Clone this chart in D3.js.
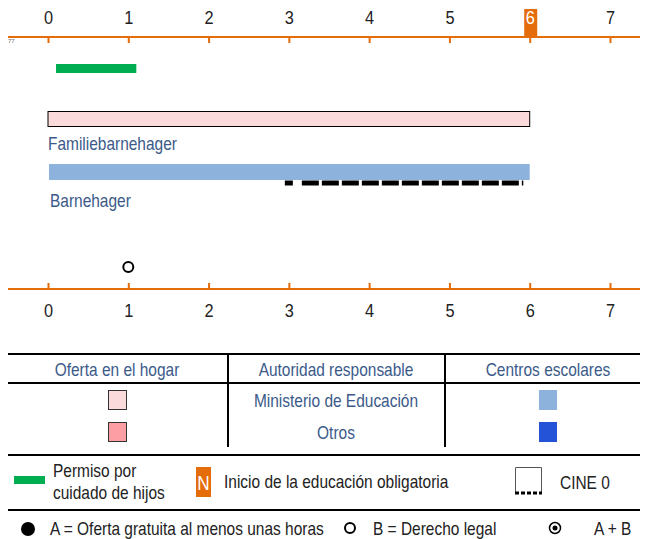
<!DOCTYPE html>
<html>
  <head>
    <meta charset="utf-8">
    <title>Noruega - estructura</title>
    <script type="text/javascript" src="https://cdn.jsdelivr.net/npm/d3@7"></script>
    <style type='text/css'>
      body { margin: 0; background: #fff; }
      svg text { font-family: "Liberation Sans", Arial, sans-serif; }
      .tick text { font-size: 19px; fill: #222; }
      .lbl { font-size: 18px; fill: #3b5a8a; }
      .leg { font-size: 18px; fill: #222; }
    </style>
  </head>
  <body>
    <script type="text/javascript">
      var w = 649;
      var h = 539;
      var sx = 0.86;   // squeeze to look like a narrow face

      // age axis
      var ages = [0, 1, 2, 3, 4, 5, 6, 7];
      var compulsoryAge = 6;

      // bars: [start age, end age]
      var parentalLeave = [0.1, 1.1];
      var homeBars = [{name: 'Familiebarnehager', start: 0, end: 6}];
      var centreBars = [{name: 'Barnehager', start: 0, end: 6}];
      var cineRange = [2.95, 5.92];
      var legalRight = [1];

      var tableHeaders = ['Oferta en el hogar', 'Autoridad responsable', 'Centros escolares'];
      var authorities = ['Ministerio de Educación', 'Otros'];
      var homeColors = ['#fadadb', '#fc9ea4'];
      var centreColors = ['#8db3dc', '#2453d8'];

      var orange = '#e46c0a';

      var x = d3.scaleLinear().domain([0, 7]).range([48, 610]);

      var svg = d3.select('body')
                  .append('svg')
                  .attr('width', w)
                  .attr('height', h);

      // move x/y into a transform so the glyphs can be squeezed horizontally
      function narrow(sel) {
        sel.each(function() {
          var t = d3.select(this);
          var tx = +t.attr('x') || 0, ty = +t.attr('y') || 0;
          t.attr('x', 0).attr('y', 0)
           .attr('transform', 'translate(' + tx + ',' + ty + ') scale(' + sx + ',1)');
        });
        return sel;
      }

      // top axis
      var topAxis = d3.axisTop(x).tickValues(ages).tickSize(-6).tickPadding(13)
                      .tickFormat(d3.format('d'));
      var gTop = svg.append('g').attr('transform', 'translate(0,37)').call(topAxis);
      gTop.select('.domain').remove();
      gTop.insert('line', ':first-child')
          .attr('x1', 8).attr('x2', 640)
          .attr('stroke', orange).attr('stroke-width', 2);
      gTop.selectAll('.tick line').attr('stroke', orange).attr('stroke-width', 2);

      // highlight compulsory age
      gTop.selectAll('.tick').filter(function(d) { return d === compulsoryAge; })
          .each(function() {
            var t = d3.select(this);
            t.insert('rect', 'text')
             .attr('x', -6).attr('y', -28).attr('width', 13).attr('height', 27)
             .attr('fill', orange);
            t.select('text').style('fill', '#fff');
          });
      narrow(gTop.selectAll('.tick text'));

      // tiny marker left of axis
      svg.append('text').attr('x', 8).attr('y', 43)
         .style('font-size', '6px').style('fill', '#666').text('77');

      // bottom axis
      var botAxis = d3.axisBottom(x).tickValues(ages).tickSize(-6).tickPadding(14)
                      .tickFormat(d3.format('d'));
      var gBot = svg.append('g').attr('transform', 'translate(0,289)').call(botAxis);
      gBot.select('.domain').remove();
      gBot.insert('line', ':first-child')
          .attr('x1', 8).attr('x2', 640)
          .attr('stroke', orange).attr('stroke-width', 2);
      gBot.selectAll('.tick line').attr('stroke', orange).attr('stroke-width', 2);
      gBot.selectAll('.tick text').attr('dy', '0.71em');
      narrow(gBot.selectAll('.tick text'));

      // parental leave
      svg.append('rect')
         .attr('x', x(parentalLeave[0])).attr('y', 64)
         .attr('width', x(parentalLeave[1]) - x(parentalLeave[0])).attr('height', 9)
         .attr('fill', '#00ad50');

      // home-based provision
      svg.selectAll('rect.home')
         .data(homeBars)
         .enter()
         .append('rect')
         .attr('class', 'home')
         .attr('x', function(d) { return x(d.start); })
         .attr('y', 111.5)
         .attr('width', function(d) { return x(d.end) - x(d.start); })
         .attr('height', 15)
         .attr('fill', homeColors[0])
         .attr('stroke', '#000').attr('stroke-width', 1);

      svg.selectAll('text.home')
         .data(homeBars)
         .enter()
         .append('text')
         .attr('class', 'lbl home')
         .attr('x', function(d) { return x(d.start); })
         .attr('y', 150)
         .text(function(d) { return d.name; });

      // centre-based provision
      svg.selectAll('rect.centre')
         .data(centreBars)
         .enter()
         .append('rect')
         .attr('class', 'centre')
         .attr('x', function(d) { return x(d.start) + 1; })
         .attr('y', 164)
         .attr('width', function(d) { return x(d.end) - x(d.start) - 1; })
         .attr('height', 16)
         .attr('fill', centreColors[0]);

      svg.selectAll('text.centre')
         .data(centreBars)
         .enter()
         .append('text')
         .attr('class', 'lbl centre')
         .attr('x', function(d) { return x(d.start) + 2; })
         .attr('y', 207)
         .text(function(d) { return d.name; });

      // CINE 0 dashed line
      svg.append('line')
         .attr('x1', x(cineRange[0])).attr('x2', x(cineRange[1]))
         .attr('y1', 183).attr('y2', 183)
         .attr('stroke', '#000').attr('stroke-width', 5)
         .attr('stroke-dasharray', '8 9 17 3 17 3 17 3 17 3 17 3 17 3 17 3 17 3 17 3 17 3 17 3');

      // legal entitlement
      svg.selectAll('circle.right')
         .data(legalRight)
         .enter()
         .append('circle')
         .attr('class', 'right')
         .attr('cx', function(d) { return x(d); })
         .attr('cy', 267)
         .attr('r', 5)
         .attr('fill', '#fff').attr('stroke', '#000').attr('stroke-width', 2);

      // ---- legend table ----
      var hline = function(y, sw) {
        svg.append('line').attr('x1', 8).attr('x2', 640)
           .attr('y1', y).attr('y2', y).attr('stroke', '#000').attr('stroke-width', sw);
      };
      hline(354, 2);
      hline(383, 2);
      hline(455, 2);
      hline(510, 2);

      [228, 445].forEach(function(vx) {
        svg.append('line').attr('x1', vx).attr('x2', vx)
           .attr('y1', 354).attr('y2', 447).attr('stroke', '#000').attr('stroke-width', 2);
      });

      var colCenters = [117, 336, 548];
      svg.selectAll('text.hdr')
         .data(tableHeaders)
         .enter()
         .append('text')
         .attr('class', 'lbl hdr')
         .attr('x', function(d, i) { return colCenters[i]; })
         .attr('y', 376)
         .attr('text-anchor', 'middle')
         .text(function(d) { return d; });

      var rowY = [400, 432];
      svg.selectAll('text.auth')
         .data(authorities)
         .enter()
         .append('text')
         .attr('class', 'lbl auth')
         .attr('x', colCenters[1])
         .attr('y', function(d, i) { return rowY[i] + 7; })
         .attr('text-anchor', 'middle')
         .text(function(d) { return d; });

      svg.selectAll('rect.hsw')
         .data(homeColors)
         .enter()
         .append('rect')
         .attr('x', 108.5)
         .attr('y', function(d, i) { return rowY[i] - 9.5; })
         .attr('width', 18).attr('height', 19)
         .attr('fill', function(d) { return d; })
         .attr('stroke', '#333').attr('stroke-width', 1);

      svg.selectAll('rect.csw')
         .data(centreColors)
         .enter()
         .append('rect')
         .attr('x', 539)
         .attr('y', function(d, i) { return rowY[i] - 10; })
         .attr('width', 18).attr('height', 20)
         .attr('fill', function(d) { return d; });

      // second legend row
      svg.append('rect').attr('x', 14).attr('y', 476).attr('width', 31).attr('height', 8).attr('fill', '#00ad50');
      svg.append('text').attr('class', 'leg').attr('x', 53).attr('y', 477).text('Permiso por');
      svg.append('text').attr('class', 'leg').attr('x', 53).attr('y', 499).text('cuidado de hijos');

      svg.append('rect').attr('x', 196).attr('y', 467).attr('width', 15).attr('height', 30).attr('fill', orange);
      svg.append('text').attr('x', 203.5).attr('y', 490).attr('text-anchor', 'middle')
         .style('font-size', '20px').style('fill', '#fff').text('N');
      svg.append('text').attr('class', 'leg').attr('x', 224).attr('y', 488).text('Inicio de la educación obligatoria');

      var cine = svg.append('g').attr('transform', 'translate(515,467)');
      cine.append('path').attr('d', 'M0.5,27V0.5H26.5V27')
          .attr('fill', 'none').attr('stroke', '#555').attr('stroke-width', 1);
      cine.append('line').attr('x1', 0).attr('x2', 27).attr('y1', 26).attr('y2', 26)
          .attr('stroke', '#000').attr('stroke-width', 3).attr('stroke-dasharray', '4 2');
      svg.append('text').attr('class', 'leg').attr('x', 560).attr('y', 489).text('CINE 0');

      // third legend row
      svg.append('circle').attr('cx', 28).attr('cy', 529).attr('r', 7).attr('fill', '#000');
      svg.append('text').attr('class', 'leg').attr('x', 50).attr('y', 535).text('A = Oferta gratuita al menos unas horas');
      svg.append('circle').attr('cx', 350).attr('cy', 528).attr('r', 5)
         .attr('fill', '#fff').attr('stroke', '#000').attr('stroke-width', 2);
      svg.append('text').attr('class', 'leg').attr('x', 373).attr('y', 535).text('B = Derecho legal');
      svg.append('circle').attr('cx', 555).attr('cy', 528).attr('r', 5.5)
         .attr('fill', '#fff').attr('stroke', '#000').attr('stroke-width', 1.5);
      svg.append('circle').attr('cx', 555).attr('cy', 528).attr('r', 2.5).attr('fill', '#000');
      svg.append('text').attr('class', 'leg').attr('x', 594).attr('y', 535).text('A + B');

      narrow(svg.selectAll('text.lbl, text.leg'));
      narrow(svg.selectAll('text').filter(function() { return d3.select(this).text() === 'N'; }));
    </script>
  </body>
</html>
